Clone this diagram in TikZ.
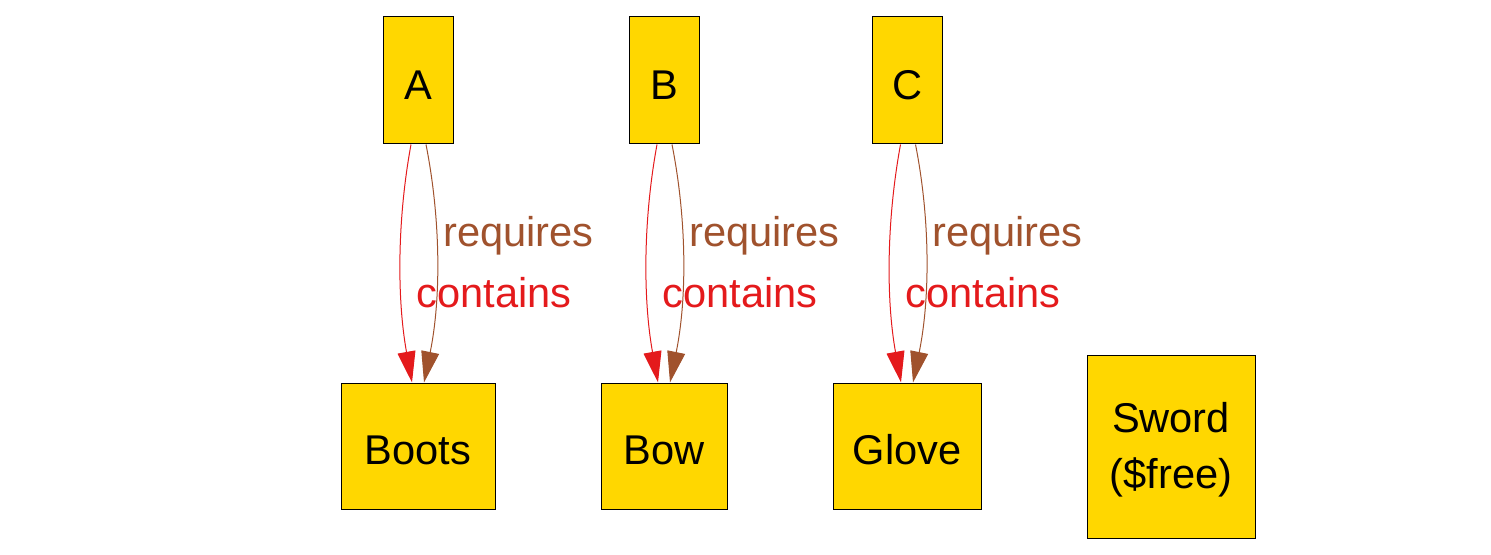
\documentclass[tikz,border=0pt]{standalone}
\usepackage{fontspec}
\setmainfont{Liberation Sans}
\usetikzlibrary{arrows.meta, positioning}
\definecolor{itemgold}{HTML}{FFD700}
\definecolor{containsred}{HTML}{E41A1C}
\definecolor{requiresbrown}{HTML}{A0522D}

\begin{document}
\begin{tikzpicture}[
		x=0.5pt,
		y=-0.5pt,
		font=\fontsize{20.8}{28}\selectfont,
		item/.style={draw=black, line width=0.5pt, fill=itemgold, inner sep=0pt, align=center},
		boss/.style={item, minimum width=35pt, minimum height=63.5pt, text height=24pt, text depth=5pt},
		loot/.style={item, minimum height=63pt, text height=23pt, text depth=5pt},
		containsedge/.style={draw=containsred, line width=0.5pt, -{Triangle[length=15.5pt, width=9pt, fill=containsred]}},
		requiresedge/.style={draw=requiresbrown, line width=0.5pt, -{Triangle[length=15.5pt, width=9pt, fill=requiresbrown]}},
		containslabel/.style={text=containsred, inner sep=0pt, anchor=base west},
		requireslabel/.style={text=requiresbrown, inner sep=0pt, anchor=base west}
		]
		\useasboundingbox (0,0) rectangle (1491,555);
		
		% Bosses
		\node[boss] (A) at (418,80.5) {A};
		\node[boss] (B) at (664,80.5) {B};
		\node[boss] (C) at (907.5,80.5) {C};
		
		% Items
		\node[loot, minimum width=77pt] (Boots) at (418,446) {Boots};
		\node[loot, minimum width=63pt] (Bow) at (664,446) {Bow};
		\node[loot, minimum width=74pt] (Glove) at (907,446) {Glove};
		\node[item, minimum width=84pt, minimum height=91.5pt, text height=46pt] (Sword) at (1171,446.5) {Sword\\(\$free)};
		
		% Drops
		\foreach \src/\dst/\x in {A/Boots/418, B/Bow/664, C/Glove/907}{
			\draw[containsedge] ([xshift=-3.5pt]\src.south) .. controls +(-14,76) and +(-15,-83) .. ([xshift=-3pt]\dst.north);
			\draw[requiresedge] ([xshift=4pt]\src.south) .. controls +(15,76) and +(17,-83) .. ([xshift=3pt]\dst.north);
			\node[requireslabel] (req\src) at (\x+25,247) {requires};
			\node[containslabel] (con\src) at (\x-2,307) {contains};
		}
		
	\end{tikzpicture}
\end{document}
